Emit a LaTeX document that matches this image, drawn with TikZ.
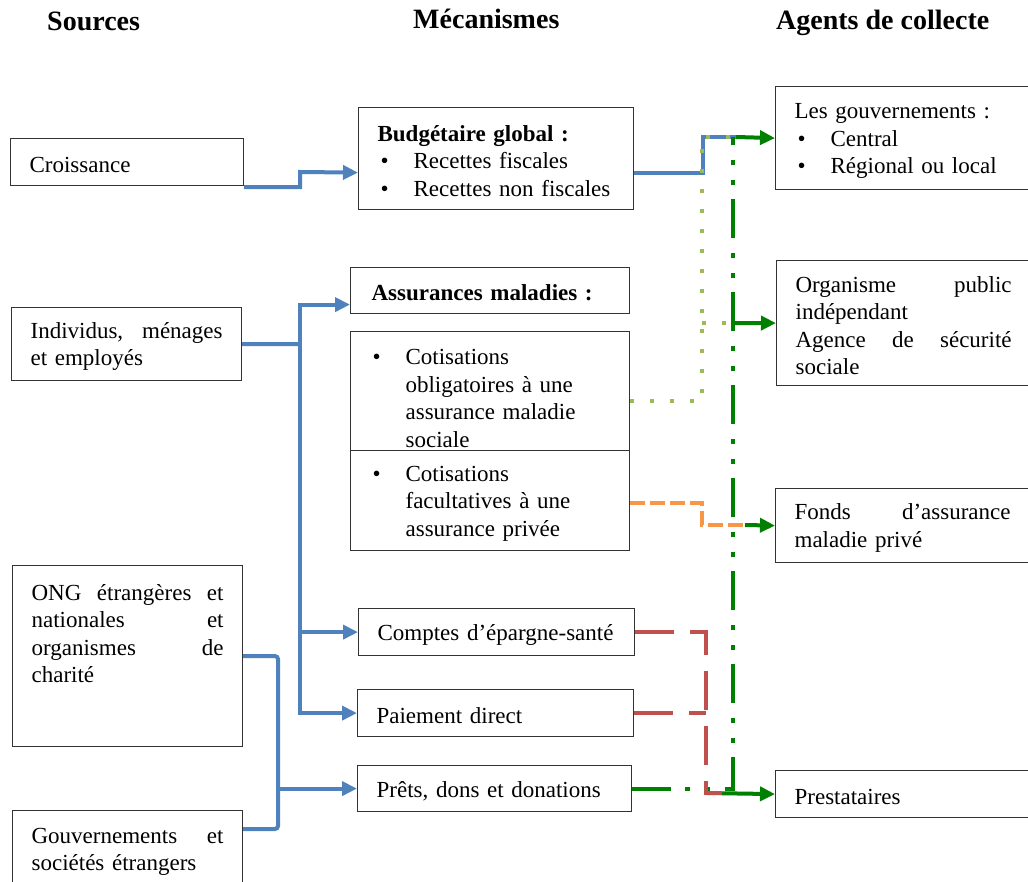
\documentclass[tikz,border=0pt]{standalone}
\usepackage{fontspec}
\setmainfont{Liberation Serif}
\usetikzlibrary{arrows.meta}

\definecolor{bleuL}{RGB}{79,129,189}
\definecolor{vertclair}{RGB}{155,187,89}
\definecolor{orangeF}{RGB}{247,150,70}
\definecolor{rougeF}{RGB}{192,80,77}
\definecolor{vertF}{RGB}{0,128,0}

\newcommand{\puce}{\makebox[36pt][l]{\hspace{3pt}\textbullet}}

\tikzset{
  boite/.style={draw=black!80, line width=1.2pt, anchor=north west, align=left,
    inner xsep=19pt, inner ysep=3pt, font=\fontsize{23}{27.5}\selectfont,
    execute at begin node={\rule{0pt}{21pt}}},
  titre/.style={anchor=base west, inner sep=0pt, font=\fontsize{28}{32}\selectfont\bfseries},
  lien/.style={line width=4pt},
  fleche/.style={-{Triangle[length=15pt,width=14pt]}},
  pointille/.style={dash pattern=on 4pt off 16pt},
  tiret/.style={dash pattern=on 15pt off 5pt},
  tiretlong/.style={dash pattern=on 39pt off 16pt},
  tiretpoint/.style={dash pattern=on 39pt off 14pt on 5pt off 15pt on 5pt off 15pt}
}

\begin{document}
\begin{tikzpicture}[x=1pt, y=-1pt]
  \useasboundingbox (0,0) rectangle (1028,882);

  %Titres
  \node[titre] (tsrc) at (47,31) {Sources};
  \node[titre] (tmec) at (413,29) {Mécanismes};
  \node[titre] (tagt) at (776,30) {Agents de collecte};

  %Sources
  \node[boite, text width=195pt, minimum height=47pt] (croiss) at (10,138) {Croissance};
  \node[boite, text width=192pt, minimum height=73pt] (indiv) at (11,307)
    {Individus, \hfill ménages\\ et employés};
  \node[boite, text width=192pt, minimum height=181pt] (ong) at (12,565)
    {ONG \hfill étrangères \hfill et\\ nationales \hfill et\\ organismes \hfill de\\ charité\rule[-50pt]{0pt}{50pt}};
  \node[boite, text width=192pt, minimum height=77pt] (gouvx) at (12,810)
    {Gouvernements \hfill et\\ sociétés étrangers};

  %Mecanismes
  \node[boite, text width=237pt, minimum height=102pt] (budg) at (358,107)
    {\textbf{Budgétaire global~:}\\ \puce Recettes fiscales\\ \puce Recettes non fiscales};
  \node[boite, minimum height=46pt, inner xsep=21pt, text width=237pt] (assur) at (350,267)
    {\textbf{Assurances maladies~:}};
  \node[boite, text width=241pt, minimum height=119pt] (oblig) at (350,331)
    {\rule{0pt}{30pt}\puce\parbox[t]{200pt}{Cotisations\\ obligatoires à une\\ assurance maladie\\ sociale}};
  \node[boite, text width=241pt, minimum height=100pt] (facul) at (350,450)
    {\puce\parbox[t]{200pt}{Cotisations\\ facultatives à une\\ assurance privée}};
  \node[boite, text width=238pt, minimum height=47pt] (comptes) at (358,608) {Comptes d’épargne-santé};
  \node[boite, text width=238pt, minimum height=47pt] (paie) at (357,689) {Paiement direct};
  \node[boite, text width=236pt, minimum height=46pt] (prets) at (357,765) {Prêts, dons et donations};

  %Agents de collecte
  \node[boite, text width=216pt, minimum height=103pt] (gouv) at (775,86)
    {Les gouvernements~:\\ \puce Central\\ \puce Régional ou local};
  \node[boite, text width=216pt, minimum height=125pt] (organ) at (776,260)
    {Organisme \hfill public\\ indépendant\\ Agence \hfill de \hfill sécurité\\ sociale};
  \node[boite, text width=216pt, minimum height=74pt] (fonds) at (775,488)
    {Fonds \hfill d’assurance\\ maladie privé};
  \node[boite, text width=216pt, minimum height=47pt] (prest) at (775,770) {Prestataires};

  %Points de jonction
  \coordinate (jc) at (300,172);
  \coordinate (ji) at (300,344);
  \coordinate (jn) at (278,829);
  \coordinate (jb) at (703,137);
  \coordinate (jg) at (736,137);
  \coordinate (jv) at (702,137);
  \coordinate (jv2) at (702,323);
  \coordinate (jo) at (733,323);
  \coordinate (jt) at (733,137);
  \coordinate (jf1) at (702,525);
  \coordinate (jf) at (745,525);
  \coordinate (jr) at (706,793);
  \coordinate (jr2) at (722,793);

  %Fleches bleues
  \draw[lien, bleuL, fleche] ([yshift=-1pt]croiss.south east) -| (jc) -- ([yshift=-14pt]budg.west);
  \draw[lien, bleuL] (indiv.east) -- (ji);
  \draw[lien, bleuL, fleche] (ji) |- ([yshift=-14pt]assur.west);
  \draw[lien, bleuL, fleche] (ji) |- (comptes.west);
  \draw[lien, bleuL, fleche] (ji) |- (paie.west);
  \draw[lien, bleuL, rounded corners=3pt] (ong.east) -| (jn) -- ([yshift=-19pt]gouvx.north east);
  \draw[lien, bleuL, fleche] (prets.west -| jn) -- (prets.west);
  \draw[lien, bleuL] ([yshift=-14pt]budg.east) -| (jb) -- (jg);

  %Fleches vertes
  \draw[lien, vertF, tiretpoint] (prets.east) -| (jt);
  \draw[lien, vertF, fleche] (jg) -- (gouv.west);
  \draw[lien, vertF, fleche] (jo) -- (organ.west);
  \draw[lien, vertF, fleche] (jf) -- (fonds.west);
  \draw[lien, vertF, fleche] (jr) -- (prest.west);

  %Traits pointilles et tirets
  \draw[lien, vertclair, pointille] ([yshift=-10pt]oblig.east) -| (jv) -- (jg);
  \draw[lien, vertclair, pointille] (jv2) -- (jo);
  \draw[lien, orangeF, tiret] ([yshift=-2pt]facul.east) -| (jf1) -- (jf);
  \draw[lien, rougeF, tiretlong] (comptes.east) -| (jr) -- (jr2);
  \draw[lien, rougeF, tiretlong] (paie.east) -- (paie.east -| jr);
\end{tikzpicture}
\end{document}
